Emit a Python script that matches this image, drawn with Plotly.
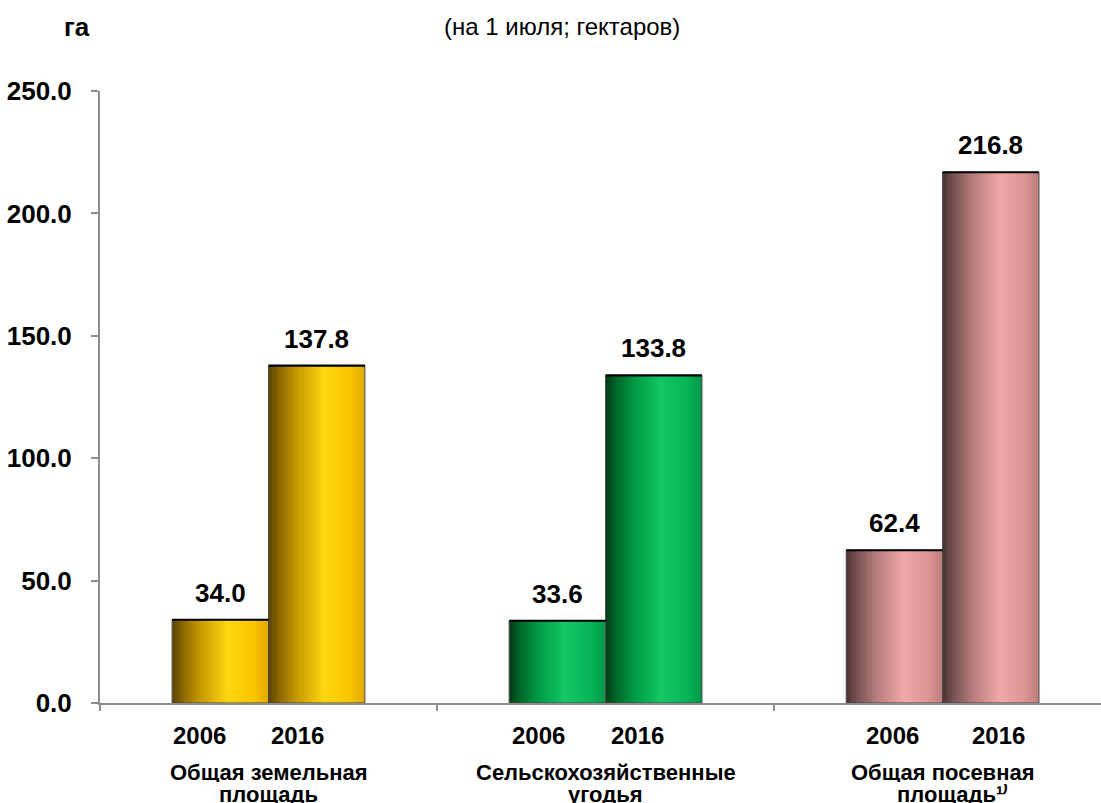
import numpy as np
import plotly.graph_objects as go

# ---- data ----
cat_line1 = ["Общая земельная", "Сельскохозяйственные", "Общая посевная"]
cat_line2 = ["площадь", "угодья", "площадь¹⁾"]
years = ["2006", "2016"]
values_2006 = [34.0, 33.6, 62.4]
values_2016 = [137.8, 133.8, 216.8]
y_ticks = [0, 50, 100, 150, 200, 250]
title_unit = "га"
subtitle = "(на 1 июля; гектаров)"

# ---- style ----
gradients = [
    [(0.0, "#5A4300"), (0.12, "#8E6B00"), (0.3, "#C99A00"), (0.58, "#FFD712"), (0.85, "#F9C400"), (1.0, "#E0AA00")],
    [(0.0, "#003A16"), (0.12, "#006A2C"), (0.3, "#009A44"), (0.58, "#14C866"), (0.85, "#06B356"), (1.0, "#00984A")],
    [(0.0, "#4A3131"), (0.12, "#7A5454"), (0.3, "#B37A7A"), (0.6, "#F2A9A9"), (0.85, "#DC9494"), (1.0, "#BE7E7E")],
]
bar_w = 0.286
N = 30
year_shift = [[-21, -19], [-19, -16], [-2, 8]]
FONT = "Liberation Sans, Arial, sans-serif"
W, H = 1101, 803
left_m, top_m, bot_m = 100, 91, 100


def hex2rgb(h):
    h = h.lstrip("#")
    return np.array([int(h[i:i + 2], 16) for i in (0, 2, 4)], dtype=float)


def grad_color(stops, t):
    ts = [s[0] for s in stops]
    cols = np.array([hex2rgb(s[1]) for s in stops])
    rgb = [np.interp(t, ts, cols[:, c]) for c in range(3)]
    return "rgb(%d,%d,%d)" % tuple(int(round(v)) for v in rgb)


def ypaper(px):
    return (H - bot_m - px) / (H - top_m - bot_m)


def xpaper(px):
    return (px - left_m) / (W - left_m)


# bar centres computed from category index and bar width
centres, vals, grads = [], [], []
for i in range(len(cat_line1)):
    for j, v in enumerate([values_2006[i], values_2016[i]]):
        centres.append(i + (j - 0.5) * bar_w)
        vals.append(v)
        grads.append(gradients[i])
centres = np.array(centres)
lefts = centres - bar_w / 2
step = bar_w / N

fig = go.Figure()
for k in range(N):
    t = (k + 0.5) / N
    w = step if k == N - 1 else step * 1.35
    fig.add_trace(go.Bar(
        x=lefts + k * step, y=vals, offset=0, width=[w] * len(vals),
        marker=dict(color=[grad_color(g, t) for g in grads], line=dict(width=0)),
        showlegend=False, hoverinfo="skip",
    ))

# outline
fig.add_trace(go.Bar(
    x=centres, y=vals, width=[bar_w] * len(vals),
    marker=dict(color="rgba(0,0,0,0)", line=dict(color="#4a4a4a", width=1)),
    showlegend=False, hoverinfo="skip",
))
# top edges
tx, ty = [], []
for c, v in zip(centres, vals):
    tx += [c - bar_w / 2, c + bar_w / 2, None]
    ty += [v, v, None]
fig.add_trace(go.Scatter(x=tx, y=ty, mode="lines", line=dict(color="#000000", width=2.2),
                         showlegend=False, hoverinfo="skip"))

annotations = []
# value labels
for c, v in zip(centres, vals):
    annotations.append(dict(x=c, y=v, xref="x", yref="y", text="<b>%.1f</b>" % v, showarrow=False,
                            yanchor="middle", yshift=27, font=dict(size=26, color="#000", family=FONT)))
# year labels
for i in range(len(cat_line1)):
    for j, yr in enumerate(years):
        annotations.append(dict(x=i + (j - 0.5) * bar_w, y=ypaper(735), xref="x", yref="paper",
                                text="<b>%s</b>" % yr, showarrow=False, yanchor="middle",
                                xshift=year_shift[i][j], font=dict(size=24, color="#000", family=FONT)))
# category labels
for i in range(len(cat_line1)):
    annotations.append(dict(x=i, y=ypaper(772), xref="x", yref="paper", text="<b>%s</b>" % cat_line1[i],
                            showarrow=False, yanchor="middle", height=20, valign="middle",
                            font=dict(size=22, color="#000", family=FONT)))
    annotations.append(dict(x=i, y=ypaper(794), xref="x", yref="paper", text="<b>%s</b>" % cat_line2[i],
                            showarrow=False, yanchor="middle", height=20, valign="middle",
                            xshift=10 if i == 2 else 0,
                            font=dict(size=22, color="#000", family=FONT)))

annotations.append(dict(x=xpaper(77), y=ypaper(27), xref="paper", yref="paper", text="<b>%s</b>" % title_unit,
                        showarrow=False, yanchor="middle", xanchor="center",
                        font=dict(size=26, color="#000", family=FONT)))
annotations.append(dict(x=xpaper(562), y=ypaper(27), xref="paper", yref="paper", text=subtitle,
                        showarrow=False, yanchor="middle", xanchor="center",
                        font=dict(size=24, color="#000", family=FONT)))

fig.update_layout(
    width=W, height=H,
    margin=dict(l=left_m, r=0, t=top_m, b=bot_m),
    paper_bgcolor="white", plot_bgcolor="white",
    barmode="overlay",
    annotations=annotations,
    font=dict(family=FONT, color="#000"),
    xaxis=dict(range=[-0.5, 2.47], showgrid=False, zeroline=False, showline=True, linecolor="#8c8c8c",
               linewidth=2, tickmode="array", tickvals=[-0.5, 0.5, 1.5, 2.5], ticks="outside", ticklen=6,
               tickcolor="#8c8c8c", tickwidth=2, showticklabels=False),
    yaxis=dict(range=[0, 250], showgrid=False, zeroline=False, showline=True, linecolor="#8c8c8c",
               linewidth=2, tickmode="array", tickvals=y_ticks, ticktext=["<b>%.1f</b>" % v for v in y_ticks],
               ticks="outside", ticklen=7, tickcolor="#8c8c8c", tickwidth=2, ticklabelstandoff=14,
               tickfont=dict(size=26, color="#000", family=FONT), automargin=False),
)

fig.write_html("out.html", config={"displayModeBar": False},
               post_script="document.body.style.margin='0px';document.body.style.overflow='hidden';")
